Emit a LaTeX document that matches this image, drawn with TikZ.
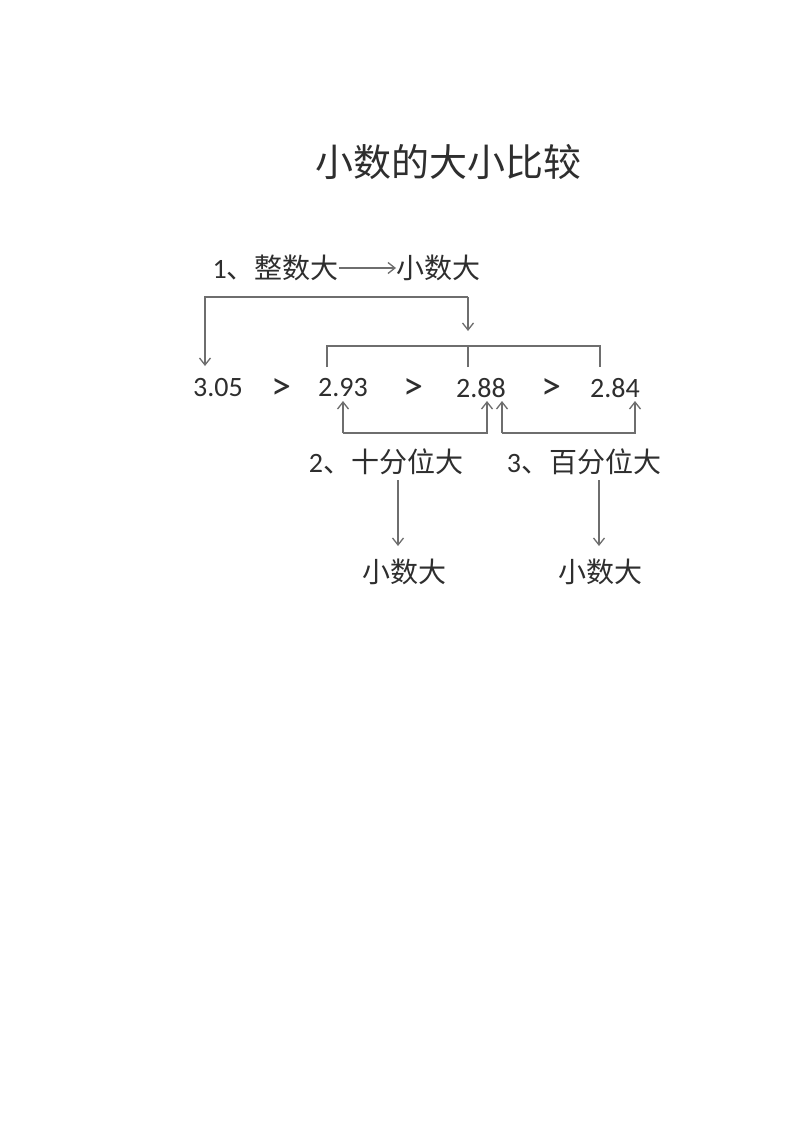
\documentclass[tikz,border=0pt]{standalone}
\usepackage{fontspec}
\setmainfont{Carlito}
\newfontfamily\cjk{Noto Sans CJK SC}
\usetikzlibrary{arrows.meta}
\definecolor{txt}{HTML}{2E2E2E}
\definecolor{ln}{HTML}{6E6E6E}
\tikzset{
  lbl/.style={inner sep=0pt, text=txt, font=\fontsize{28}{30}\selectfont},
  gt/.style={inner sep=0pt, text=txt, font=\fontsize{40}{42}\selectfont},
  ttl/.style={inner sep=0pt, text=txt, font=\fontsize{38}{40}\selectfont\cjk},
  conn/.style={draw=ln, line width=1.3pt},
  arr/.style={conn, -{Straight Barb[length=7pt,width=11pt]}}
}
\begin{document}
\begin{tikzpicture}[x=1pt,y=-1pt]
\useasboundingbox[fill=white] (0,0) rectangle (800,1132);
\node[ttl] (title) at (448,162) {小数的大小比较};
\node[lbl, anchor=east] (t1) at (339,268) {1\cjk{、整数大}};
\node[lbl, anchor=west] (t1b) at (396,268) {\cjk{小数大}};
\draw[arr] (t1.east) -- (t1b.west);
\node[lbl] (n1) at (218,388) {3.05};
\node[gt] (g1) at (281,389) {>};
\node[lbl] (n2) at (343,388) {2.93};
\node[gt] (g2) at (413,389) {>};
\node[lbl] (n3) at (481,388) {2.88};
\node[gt] (g3) at (551,389) {>};
\node[lbl] (n4) at (615,388) {2.84};
% bracket 1
\coordinate (a1) at (205,366);
\coordinate (a2) at (468,331);
\draw[arr] (a2 |- 0,297) -- (a2);
\draw[arr] (a2 |- 0,297) -| (a1);
% bracket 2
\coordinate (b1) at (327,367);
\coordinate (b2) at (468,367);
\coordinate (b3) at (600,367);
\draw[conn] (b1) |- (0,346 -| b3) -- (b3);
\draw[conn] (b2) -- (b2 |- 0,346);
% lower brackets
\coordinate (c1) at (343,401);
\coordinate (c2) at (487,401);
\coordinate (d1) at (502,401);
\coordinate (d2) at (635,401);
\draw[arr] (c1 |- 0,433) -- (c1);
\draw[arr] (c1 |- 0,433) -- (c2 |- 0,433) -- (c2);
\draw[arr] (d1 |- 0,433) -- (d1);
\draw[arr] (d1 |- 0,433) -- (d2 |- 0,433) -- (d2);
\node[lbl] (t2) at (386,462) {2\cjk{、十分位大}};
\node[lbl] (t3) at (584,462) {3\cjk{、百分位大}};
\node[lbl] (r2) at (404,572) {\cjk{小数大}};
\node[lbl] (r3) at (600,572) {\cjk{小数大}};
\coordinate (e1) at (398,480);
\coordinate (e2) at (599,480);
\draw[arr] (e1) -- (e1 |- 0,546);
\draw[arr] (e2) -- (e2 |- 0,546);
\end{tikzpicture}
\end{document}
